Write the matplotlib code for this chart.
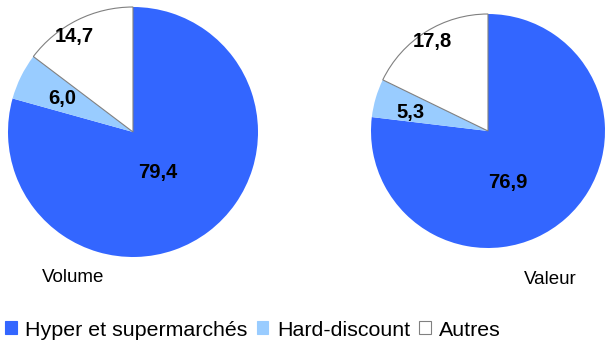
import numpy as np
import matplotlib.pyplot as plt
from matplotlib.patches import Patch

plt.rcParams['font.family'] = ['Liberation Sans', 'DejaVu Sans']

# Data
categories = ["Hyper et supermarchés", "Hard-discount", "Autres"]
volume = [79.4, 6.0, 14.7]
valeur = [76.9, 5.3, 17.8]
labels_volume = ["79,4", "6,0", "14,7"]
labels_valeur = ["76,9", "5,3", "17,8"]

colors = ["#3366FF", "#99CCFF", "#FFFFFF"]

W, H = 605, 347
fig = plt.figure(figsize=(W / 100, H / 100), dpi=100)


def draw_pie(cx, cy, r, values, texts, placement, title, tx, ty):
    ax = fig.add_axes([(cx - r) / W, (H - cy - r) / H, 2 * r / W, 2 * r / H])
    wedges, _ = ax.pie(values, colors=colors, startangle=90, counterclock=False,
                       wedgeprops={'linewidth': 0})
    wedges[2].set_edgecolor("#808080")
    wedges[2].set_linewidth(0.8)
    # label placement: (angle shift from wedge middle, distance from centre)
    for w, t, (shift, d) in zip(wedges, texts, placement):
        ang = np.deg2rad((w.theta1 + w.theta2) / 2 + shift)
        ax.text(d * np.cos(ang), d * np.sin(ang), t, ha='center', va='center',
                fontsize=14.5, fontweight='bold')
    ax.set_xlim(-1, 1)
    ax.set_ylim(-1, 1)
    ax.set_aspect('equal')
    ax.axis('off')
    fig.text(tx / W, 1 - ty / H, title, ha='center', va='center', fontsize=13.5)


draw_pie(133, 132, 125, volume, labels_volume,
         [(-6.5, 0.38), (1, 0.63), (5, 0.9)], "Volume", 73, 277)
draw_pie(488, 131, 117, valeur, labels_valeur,
         [(-20, 0.47), (2.7, 0.68), (0, 0.9)], "Valeur", 550, 279)

handles = [Patch(facecolor=c, edgecolor="#808080" if c == "#FFFFFF" else c, linewidth=0.8)
           for c in colors]
fig.legend(handles, categories, loc='center left', bbox_to_anchor=(5 / W, 1 - 330 / H),
           ncol=3, frameon=False, fontsize=15.4, handlelength=0.55, handleheight=0.55,
           handletextpad=0.4, columnspacing=0.42, borderaxespad=0, borderpad=0)

plt.savefig("out.png", dpi=100)
